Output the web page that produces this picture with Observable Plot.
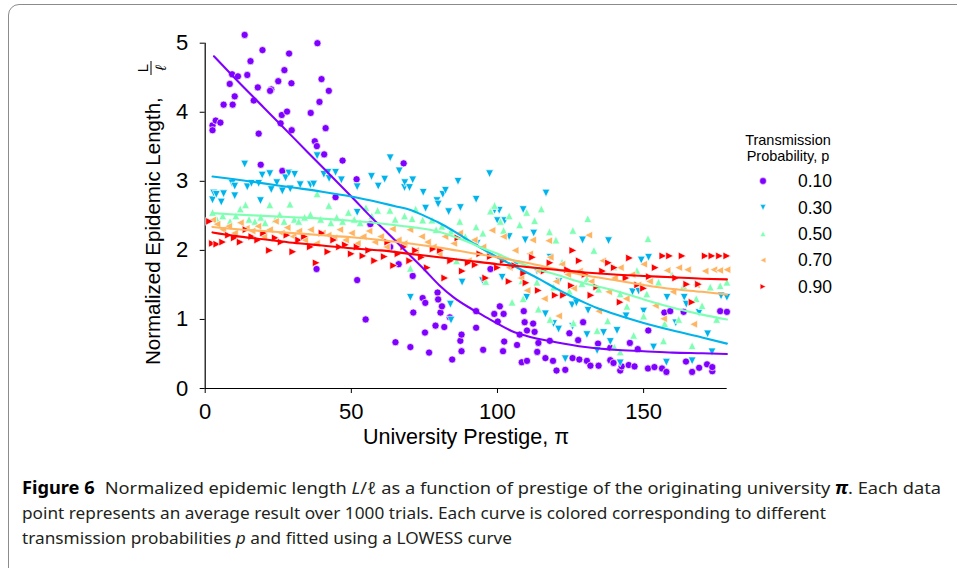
<!DOCTYPE html>
<html>
<head>
<meta charset="utf-8">
<script src="https://cdn.jsdelivr.net/npm/d3@7"></script>
<script src="https://cdn.jsdelivr.net/npm/@observablehq/plot@0.6"></script>
<style>
  body { margin: 0; background: #fff; }
  #wrap { position: relative; width: 957px; height: 568px; overflow: hidden; background: #fff; }
  #frame { position: absolute; left: 8px; top: 4px; width: 1200px; height: 800px; border: 1.5px solid #8c8c8c; border-radius: 11px; }
  #chart { position: absolute; left: 0; top: 0; }
  #caption { position: absolute; left: 22px; top: 475px; font-family: "Noto Sans", sans-serif; font-size: 17px; line-height: 25px; color: #231f20; }
  .cl { display: block; width: max-content; white-space: nowrap; transform-origin: 0 0; }
  .cl b { font-weight: 700; color: #000; margin-right: 5px; }
</style>
</head>
<body>
<div id="wrap">
  <div id="frame"></div>
  <div id="chart"></div>
  <div id="caption">
    <span class="cl" data-w="919"><b>Figure 6</b> Normalized epidemic length <i>L</i>/<i>ℓ</i> as a function of prestige of the originating university <b style="margin:0;font-style:italic">π</b>. Each data</span>
    <span class="cl" data-w="804">point represents an average result over 1000 trials. Each curve is colored corresponding to different</span>
    <span class="cl" data-w="490">transmission probabilities <i>p</i> and fitted using a LOWESS curve</span>
  </div>
</div>
<script>
// ---------------- data ----------------
const seriesLabels = ["0.10", "0.30", "0.50", "0.70", "0.90"];
const seriesColors = ["#8000ff", "#00b4eb", "#80ffb4", "#ffb462", "#ff0000"];
const xTicks = [0, 50, 100, 150];
const yTicks = [0, 1, 2, 3, 4, 5];

const pts10 = [[2.5,3.81],[2.5,3.74],[3.6,3.88],[5.2,3.85],[6.3,4.11],[8.4,4.41],[9.2,4.55],[9.4,4.11],[10.1,4.23],[11.2,4.52],[13.5,5.12],[14.4,4.54],[15.5,4.74],[16.6,4.17],[18.0,4.36],[18.3,3.69],[19.0,3.24],[19.6,4.90],[22.6,4.33],[22.2,4.31],[25.0,4.45],[25.8,3.84],[26.2,3.96],[26.4,3.15],[27.1,4.61],[28.0,4.01],[28.7,4.85],[29.5,4.42],[29.6,3.74],[36.1,3.99],[37.5,3.58],[38.1,1.73],[38.2,3.51],[38.4,5.00],[39.1,4.15],[39.8,4.48],[40.7,3.39],[41.2,3.77],[42.3,4.31],[44.6,2.77],[47.0,3.30],[51.8,3.03],[52.0,1.57],[54.9,1.00],[56.5,2.38],[63.3,2.05],[65.1,0.67],[66.2,1.80],[67.9,3.26],[70.2,0.60],[71.0,1.63],[71.2,1.10],[74.4,1.31],[75.2,0.81],[75.3,1.24],[76.6,0.52],[78.8,0.91],[79.5,1.39],[79.7,1.29],[80.5,1.10],[81.0,1.19],[81.8,0.89],[83.7,1.03],[84.5,0.42],[87.3,0.69],[87.7,0.78],[87.7,0.54],[92.7,1.12],[92.7,0.88],[95.1,0.56],[97.6,1.73],[98.9,1.08],[100.1,0.97],[100.8,1.19],[101.9,0.54],[102.1,1.08],[102.3,0.68],[106.7,0.63],[107.6,0.78],[108.3,0.38],[109.0,1.12],[109.3,0.96],[110.1,0.84],[110.1,0.40],[112.2,0.94],[112.7,0.82],[113.6,0.53],[114.0,0.66],[116.4,0.44],[117.9,0.69],[119.0,0.40],[120.2,0.26],[123.2,0.27],[124.6,0.80],[125.7,0.44],[127.6,0.70],[128.0,0.42],[129.3,0.96],[130.6,0.40],[131.8,0.33],[134.4,0.65],[134.6,0.33],[138.6,0.59],[138.6,0.41],[139.7,0.37],[142.0,0.26],[142.5,0.32],[144.9,0.34],[145.3,0.66],[146.9,0.32],[148.0,0.57],[151.5,0.29],[151.6,0.84],[153.7,0.31],[156.3,0.29],[157.1,1.10],[157.8,0.24],[159.1,1.12],[163.7,1.11],[164.5,0.39],[166.6,0.24],[169.0,0.30],[171.7,0.35],[173.5,0.25],[173.5,0.31],[176.2,1.12],[178.5,1.11]];

const pts30 = [[2.5,2.73],[2.9,2.83],[3.8,2.81],[5.5,2.70],[6.3,2.82],[9.2,2.97],[10.1,2.93],[10.1,2.79],[13.5,3.25],[14.4,2.92],[15.8,2.97],[18.3,2.97],[18.9,2.72],[19.5,3.09],[22.1,3.11],[22.6,2.88],[24.5,2.98],[26.4,2.86],[27.5,3.05],[28.6,3.12],[29.1,2.89],[30.6,3.10],[32.5,2.95],[36.0,2.95],[37.1,2.96],[38.3,3.37],[40.6,3.10],[42.0,3.13],[42.4,3.04],[44.6,3.13],[46.6,3.02],[52.0,2.92],[52.0,2.55],[56.9,3.07],[59.2,2.93],[61.4,3.03],[63.3,3.34],[66.4,3.15],[68.2,2.91],[68.3,2.98],[69.9,2.91],[71.0,3.02],[74.6,2.84],[75.4,2.61],[79.3,2.72],[79.7,2.67],[81.3,2.81],[82.2,2.87],[83.3,2.56],[86.5,3.00],[87.3,2.62],[92.7,2.74],[97.3,3.11],[99.0,2.58],[100.6,2.58],[100.0,2.43],[102.5,2.43],[108.8,2.59],[116.6,2.83],[109.5,2.15],[112.4,2.25],[129.1,2.15],[138.0,2.14],[125.5,1.21],[127.0,1.24],[131.0,1.13],[116.4,1.08],[119.2,0.94],[120.9,0.86],[125.7,0.90],[130.6,0.78],[136.3,0.81],[138.6,0.68],[140.9,0.84],[134.1,0.55],[142.0,0.37],[153.4,0.60],[157.8,0.38],[166.6,0.40],[173.4,0.53],[123.2,0.43],[110.0,1.32],[146.2,1.40],[148.3,1.41],[151.7,1.90],[158.0,1.32],[163.9,1.32],[164.6,1.22],[169.0,1.10],[171.9,0.79],[176.5,1.34],[178.5,1.32],[149.2,1.86],[87.9,1.54],[70.2,1.32],[83.9,1.22],[94.9,1.56],[101.6,1.61],[84.1,0.99],[106.5,1.80],[113.5,1.70],[121.0,1.55],[144.0,1.05],[150.0,1.12],[161.0,0.95],[93.0,2.10],[104.0,2.20],[118.0,1.90]];

const pts50 = [[2.5,2.55],[4.0,2.45],[6.0,2.50],[8.5,2.42],[10.5,2.50],[12.0,2.60],[13.8,2.66],[15.0,2.45],[17.0,2.42],[19.0,2.48],[20.5,2.40],[22.1,2.66],[24.0,2.45],[25.5,2.52],[27.0,2.42],[29.0,2.67],[30.5,2.45],[32.0,2.42],[34.0,2.48],[36.0,2.52],[38.3,2.82],[39.5,2.45],[42.3,2.65],[43.0,2.40],[45.0,2.48],[47.0,2.42],[49.0,2.55],[51.0,2.45],[53.0,2.40],[55.0,2.62],[57.0,2.50],[59.0,2.58],[63.2,2.58],[65.0,2.45],[68.2,2.50],[70.2,1.74],[70.8,2.46],[72.0,2.60],[74.4,2.44],[77.6,2.44],[79.0,2.30],[81.0,2.35],[84.0,2.28],[87.1,2.42],[89.0,2.20],[92.7,2.34],[95.0,2.25],[97.6,2.57],[99.0,2.65],[101.0,2.42],[102.1,2.29],[104.0,2.50],[107.6,2.37],[110.0,2.55],[112.7,2.43],[115.0,2.60],[117.8,2.27],[120.0,2.15],[122.1,1.83],[124.6,1.41],[125.8,2.29],[128.9,1.52],[130.6,1.59],[130.9,2.46],[133.0,2.00],[134.6,1.44],[134.1,0.84],[137.7,0.98],[139.8,1.76],[142.0,1.37],[142.0,0.53],[144.3,1.19],[146.6,0.77],[147.7,1.71],[151.1,1.37],[151.5,2.17],[155.1,1.54],[156.8,0.69],[157.2,0.94],[159.7,1.65],[163.7,1.49],[166.6,0.62],[168.0,1.30],[172.8,1.47],[176.2,1.49],[178.5,1.54],[108.8,1.30],[108.4,1.56],[113.5,1.54],[119.2,1.47],[86.0,1.85],[96.0,1.55],[105.0,1.25],[114.0,1.15],[118.0,1.00],[126.0,0.95],[140.0,0.60],[150.0,1.05],[162.0,1.00],[170.0,1.20],[175.0,1.00]];

const pts70 = [[2.5,2.44],[4.0,2.38],[6.0,2.30],[8.0,2.35],[10.0,2.25],[12.0,2.40],[14.0,2.32],[16.0,2.28],[18.0,2.35],[20.0,2.20],[22.0,2.30],[24.0,2.42],[26.0,2.25],[28.0,2.33],[30.0,2.20],[32.0,2.28],[34.0,2.15],[36.0,2.30],[38.0,2.10],[40.0,2.25],[42.0,2.22],[44.0,2.18],[46.0,2.30],[48.0,2.15],[50.0,2.25],[52.0,2.10],[54.0,2.20],[56.0,2.28],[58.0,2.12],[60.0,2.20],[62.0,2.05],[64.0,2.31],[66.0,2.15],[68.0,2.10],[70.0,2.30],[72.0,2.00],[74.0,2.20],[76.0,2.12],[78.0,2.05],[80.0,1.95],[82.0,2.20],[85.0,2.10],[87.0,2.25],[90.0,1.85],[92.0,2.15],[95.0,2.05],[98.1,2.29],[100.0,1.90],[102.0,2.20],[104.0,1.75],[106.0,2.00],[108.0,1.60],[110.1,1.42],[111.0,1.95],[112.0,2.15],[114.0,1.70],[116.0,1.30],[117.5,2.14],[118.0,1.90],[120.0,1.55],[120.9,1.05],[122.0,1.80],[124.0,1.65],[126.0,1.45],[128.0,1.70],[131.2,2.22],[132.0,1.55],[134.6,1.12],[136.0,1.85],[138.0,1.40],[140.0,1.60],[142.0,1.75],[144.0,1.30],[146.0,1.65],[148.0,1.50],[150.0,1.80],[152.0,1.55],[154.0,1.20],[156.8,1.01],[158.0,1.71],[160.0,1.40],[162.0,1.75],[165.0,1.72],[167.1,0.93],[168.0,1.50],[171.0,1.70],[174.0,1.72],[176.0,1.71],[178.5,1.72]];

const pts90 = [[1.5,2.42],[2.5,2.10],[4.0,2.09],[6.0,2.12],[8.0,2.22],[10.0,2.18],[12.0,2.12],[14.0,2.30],[16.0,2.20],[18.0,2.15],[20.0,2.25],[22.0,2.00],[24.0,2.18],[26.0,2.12],[28.0,2.22],[30.0,1.98],[32.0,2.15],[34.0,2.20],[36.0,2.05],[38.0,1.82],[40.0,2.25],[42.0,1.98],[44.0,2.15],[46.0,2.05],[48.0,2.08],[50.0,1.95],[52.0,2.05],[54.0,1.92],[56.0,2.00],[58.0,1.85],[61.3,1.91],[62.5,2.12],[64.5,1.78],[66.0,1.95],[68.0,2.05],[70.0,1.85],[72.0,2.00],[74.0,1.90],[76.0,1.75],[78.0,2.02],[80.5,2.00],[82.0,1.60],[84.0,1.85],[86.5,2.18],[88.0,1.70],[90.0,1.82],[92.4,1.79],[94.0,1.95],[96.0,1.60],[97.6,1.91],[100.0,1.75],[102.0,1.85],[104.0,1.55],[106.0,1.78],[109.0,1.67],[109.8,1.53],[112.0,1.90],[114.0,1.42],[116.0,1.70],[118.0,1.82],[119.8,1.35],[122.6,1.35],[124.0,1.72],[125.3,1.49],[125.8,2.00],[128.0,1.85],[130.0,1.65],[132.0,1.35],[134.0,1.47],[136.0,1.70],[138.0,1.82],[140.0,1.75],[142.0,1.25],[144.0,1.60],[145.2,1.89],[148.0,1.50],[150.0,1.45],[152.0,1.62],[154.0,1.75],[156.6,1.92],[158.9,1.92],[161.0,1.60],[163.2,1.92],[164.8,1.51],[166.6,1.25],[168.8,1.51],[171.1,1.92],[173.4,1.92],[176.0,1.92],[178.5,1.92]];

const lowess10 = [[3,4.81],[10,4.50],[20,4.07],[30,3.64],[40,3.21],[50,2.78],[58,2.43],[62,2.27],[66,2.10],[70,1.93],[75,1.72],[80,1.50],[85,1.32],[90,1.18],[95,1.06],[100,0.94],[105,0.83],[110,0.76],[120,0.67],[130,0.60],[140,0.56],[150,0.54],[160,0.52],[170,0.51],[178.5,0.50]];
const lowess30 = [[2.5,3.07],[10,3.03],[20,2.97],[30,2.91],[40,2.85],[50,2.78],[60,2.69],[65,2.64],[70,2.59],[75,2.50],[80,2.40],[85,2.28],[90,2.15],[95,2.02],[100,1.90],[105,1.79],[110,1.68],[115,1.57],[120,1.45],[125,1.34],[130,1.24],[135,1.15],[140,1.08],[150,0.95],[160,0.84],[170,0.74],[178.5,0.65]];
const lowess50 = [[2.5,2.54],[10,2.52],[20,2.50],[30,2.48],[40,2.46],[50,2.43],[60,2.39],[70,2.34],[80,2.27],[85,2.20],[90,2.12],[95,2.03],[100,1.95],[105,1.86],[110,1.78],[115,1.71],[120,1.65],[130,1.52],[140,1.42],[150,1.29],[160,1.17],[170,1.07],[178.5,1.00]];
const lowess70 = [[2.5,2.34],[10,2.31],[20,2.28],[30,2.25],[40,2.22],[50,2.19],[60,2.15],[70,2.10],[80,2.04],[90,1.97],[100,1.90],[110,1.82],[120,1.73],[130,1.64],[140,1.57],[150,1.50],[160,1.44],[170,1.40],[178.5,1.36]];
const lowess90 = [[2.5,2.26],[10,2.21],[20,2.16],[30,2.11],[40,2.07],[50,2.03],[60,2.00],[70,1.95],[80,1.90],[90,1.85],[100,1.80],[110,1.76],[120,1.72],[130,1.68],[140,1.65],[150,1.63],[160,1.61],[170,1.59],[178.5,1.58]];

// ---------------- symbols (matplotlib-like triangles) ----------------
function tri(dir) {
  return {
    draw(ctx, size) {
      const a = Math.sqrt(size / Math.PI);
      const p = {
        up:    [[0,-a],[a,a],[-a,a]],
        down:  [[0,a],[a,-a],[-a,-a]],
        left:  [[-a,0],[a,a],[a,-a]],
        right: [[a,0],[-a,a],[-a,-a]]
      }[dir];
      ctx.moveTo(p[0][0], p[0][1]);
      ctx.lineTo(p[1][0], p[1][1]);
      ctx.lineTo(p[2][0], p[2][1]);
      ctx.closePath();
    }
  };
}
const symbols = ["circle", tri("down"), tri("up"), tri("left"), tri("right")];
const allPts = [pts10, pts30, pts50, pts70, pts90];
const allLines = [lowess10, lowess30, lowess50, lowess70, lowess90];

const FONT = "'Liberation Sans', Arial, Helvetica, sans-serif";
const X0 = 0, X1 = 178.6;

const dotMarks = allPts.map((pts, i) => Plot.dot(pts, {
  x: d => d[0], y: d => d[1],
  symbol: symbols[i],
  r: i === 0 ? 3.6 : 3.9,
  fill: seriesColors[i], stroke: "white", strokeWidth: 0.7
}));
const lineMarks = allLines.map((ln, i) => Plot.line(ln, {
  x: d => d[0], y: d => d[1], stroke: seriesColors[i], strokeWidth: 2.1, curve: "monotone-x"
}));

const plot = Plot.plot({
  width: 957, height: 460,
  marginLeft: 204.7, marginRight: 230.3, marginTop: 42.7, marginBottom: 72,
  x: { domain: [X0, X1] },
  y: { domain: [0, 5] },
  style: { fontFamily: FONT, fontSize: "22px", color: "#000", background: "transparent", overflow: "visible" },
  marks: [
    Plot.axisX({ ticks: xTicks, tickSize: 5, tickPadding: 10, label: null, fontSize: 22, stroke: "#000", tickFormat: d3.format("d") }),
    Plot.axisY({ ticks: yTicks, tickSize: 5, tickPadding: 12, label: null, fontSize: 22, stroke: "#000", tickFormat: d3.format("d") }),
    Plot.ruleX([X0], { y1: 0, y2: 5, stroke: "#000", strokeWidth: 1.2 }),
    Plot.ruleY([0], { x1: X0, x2: X1, stroke: "#000", strokeWidth: 1.2 }),
    ...dotMarks,
    ...lineMarks
  ]
});
document.getElementById("chart").appendChild(plot);

const svg = d3.select(plot);

// x label
svg.append("text").attr("x", 466).attr("y", 444).attr("text-anchor", "middle")
  .attr("font-family", FONT).attr("font-size", 21.5).attr("fill", "#000")
  .text("University Prestige, π");

// y label with stacked fraction L / ℓ
const yl = svg.append("g").attr("transform", "translate(160,365) rotate(-90)")
  .attr("font-family", FONT).attr("fill", "#000").attr("text-anchor", "start");
yl.append("text").attr("x", 0).attr("y", 0).attr("text-anchor", "start").attr("font-size", 20.5).text("Normalized Epidemic Length,");
yl.append("text").attr("x", 297).attr("y", -12.5).attr("text-anchor", "middle").attr("font-size", 15).text("L");
yl.append("line").attr("x1", 290).attr("x2", 304).attr("y1", -9).attr("y2", -9).attr("stroke", "#000").attr("stroke-width", 1);
yl.append("text").attr("x", 297).attr("y", 5.5).attr("text-anchor", "middle").attr("font-size", 15).attr("font-style", "italic").text("ℓ");

// legend
const lg = svg.append("g").attr("font-family", FONT).attr("fill", "#000");
lg.append("text").attr("x", 788).attr("y", 145).attr("text-anchor", "middle").attr("font-size", 14.5).text("Transmission");
lg.append("text").attr("x", 788).attr("y", 161).attr("text-anchor", "middle").attr("font-size", 14.5).text("Probability, p");
seriesLabels.forEach((lab, i) => {
  const cy = 181 + i * 26.4;
  const path = d3.path();
  if (i === 0) { path.arc(0, 0, 3.4, 0, 2 * Math.PI); }
  else { symbols[i].draw(path, Math.PI * 2.8 * 2.8); }
  lg.append("path").attr("d", path.toString()).attr("transform", `translate(763,${cy})`)
    .attr("fill", seriesColors[i]).attr("stroke", "white").attr("stroke-width", 0.5);
  lg.append("text").attr("x", 798).attr("y", cy + 6.2).attr("text-anchor", "start").attr("font-size", 17.5).text(lab);
});

// fit caption lines to reference widths
function fitCaption() {
  document.querySelectorAll(".cl").forEach(el => {
    el.style.transform = "none";
    const w = el.getBoundingClientRect().width;
    const target = +el.dataset.w;
    if (w > 0) el.style.transform = `scaleX(${target / w})`;
  });
}
fitCaption();
if (document.fonts && document.fonts.ready) document.fonts.ready.then(fitCaption);
</script>
</body>
</html>
